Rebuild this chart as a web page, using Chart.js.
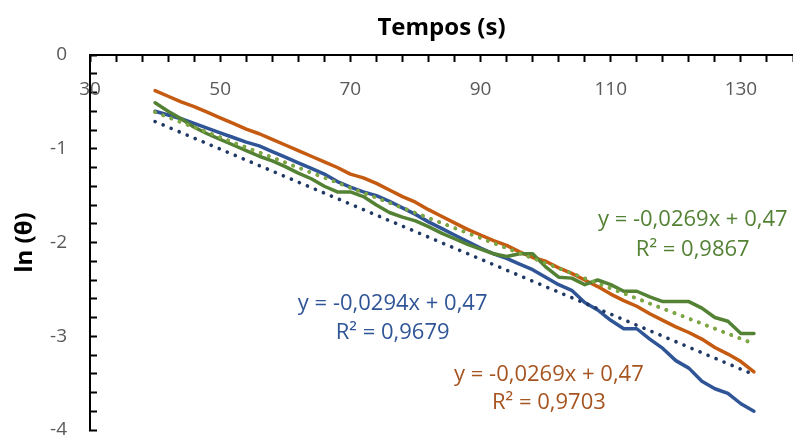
<!DOCTYPE html>
<html>
<head>
<meta charset="utf-8">
<script src="https://cdn.jsdelivr.net/npm/chart.js@4"></script>
<style>
  html,body{margin:0;padding:0;background:#fff;}
  #wrap{width:793px;height:437px;position:relative;}
</style>
</head>
<body>
<div id="wrap"><canvas id="c"></canvas></div>
<script>
// tempos (s) e ln(theta)
const tempos = [40,42,44,46,48,50,52,54,56,58,60,62,64,66,68,70,72,74,76,78,80,82,84,86,88,90,92,94,96,98,100,102,104,106,108,110,112,114,116,118,120,122,124,126,128,130,132];
const lnAzul = [-0.60,-0.64,-0.68,-0.73,-0.78,-0.83,-0.88,-0.93,-0.97,-1.03,-1.09,-1.15,-1.21,-1.27,-1.35,-1.41,-1.46,-1.50,-1.56,-1.63,-1.70,-1.78,-1.85,-1.92,-1.99,-2.06,-2.12,-2.17,-2.23,-2.29,-2.37,-2.45,-2.51,-2.64,-2.72,-2.83,-2.92,-2.92,-3.03,-3.13,-3.26,-3.34,-3.48,-3.56,-3.61,-3.72,-3.80];
const lnLaranja = [-0.38,-0.44,-0.50,-0.55,-0.61,-0.67,-0.73,-0.79,-0.84,-0.90,-0.96,-1.02,-1.08,-1.14,-1.20,-1.27,-1.31,-1.37,-1.44,-1.51,-1.57,-1.65,-1.72,-1.79,-1.86,-1.92,-1.98,-2.03,-2.10,-2.16,-2.20,-2.27,-2.33,-2.40,-2.47,-2.55,-2.62,-2.68,-2.76,-2.83,-2.90,-2.96,-3.03,-3.12,-3.19,-3.27,-3.38];
const lnVerde = [-0.51,-0.60,-0.68,-0.77,-0.84,-0.90,-0.96,-1.02,-1.08,-1.13,-1.19,-1.26,-1.32,-1.40,-1.46,-1.46,-1.51,-1.60,-1.68,-1.73,-1.77,-1.83,-1.90,-1.96,-2.02,-2.07,-2.12,-2.15,-2.12,-2.12,-2.26,-2.37,-2.38,-2.45,-2.40,-2.45,-2.52,-2.52,-2.58,-2.63,-2.63,-2.63,-2.70,-2.80,-2.84,-2.97,-2.97];

// linhas de tendência (extremos)
const trendX = [40,132];
const trendAzul = [-0.71,-3.41];
const trendLaranja = [-0.61,-3.08];
const trendVerde = [-0.61,-3.08];

const xTickLabels = [30,50,70,90,110,130];
const yTickLabels = [0,-1,-2,-3,-4];

const eqTexts = [
  {lines:['y = -0,0294x + 0,47','R² = 0,9679'], x:76.5, y:[-2.65,-2.96], color:'#2F5597'},
  {lines:['y = -0,0269x + 0,47','R² = 0,9867'], x:122.6, y:[-1.76,-2.08], color:'#548235'},
  {lines:['y = -0,0269x + 0,47','R² = 0,9703'], x:100.5, y:[-3.41,-3.71], color:'#A65420'}
];

const pts = (xs, ys) => xs.map((x,i)=>({x, y:ys[i]}));

const solid = (data,color,order)=>({data, borderColor:color, borderWidth:3.5, pointRadius:0, showLine:true, order, borderJoinStyle:'round', borderCapStyle:'round'});
const dotted = (data,color,order)=>({data, borderColor:color, borderWidth:3.6, pointRadius:0, showLine:true, order, borderDash:[0.1,8.6], borderCapStyle:'round'});

const textPlugin = {
  id:'extras',
  afterDatasetsDraw(chart){
    const {ctx, scales:{x, y}, chartArea} = chart;
    ctx.save();
    // x tick labels dentro da área
    ctx.font = '19px "Open Sans"';
    ctx.fillStyle = '#595959';
    ctx.textAlign = 'center';
    ctx.textBaseline = 'alphabetic';
    xTickLabels.forEach(v=>{
      ctx.fillText(String(v), x.getPixelForValue(v), chartArea.top + 40);
    });
    // equações
    ctx.font = '22px "Open Sans"';
    ctx.textBaseline = 'middle';
    eqTexts.forEach(t=>{
      ctx.fillStyle = t.color;
      t.lines.forEach((s,i)=>ctx.fillText(s, x.getPixelForValue(t.x), y.getPixelForValue(t.y[i])));
    });
    ctx.restore();
  }
};

new Chart(document.getElementById('c'), {
  type:'scatter',
  data:{
    datasets:[
      solid(pts(tempos,lnAzul),'#2F5597',9),
      solid(pts(tempos,lnLaranja),'#C55A11',8),
      solid(pts(tempos,lnVerde),'#548235',7),
      dotted(pts(trendX,trendAzul),'#1F3864',6),
      dotted(pts(trendX,trendLaranja),'#C55A11',5),
      dotted(pts(trendX,trendVerde),'#70AD47',4)
    ]
  },
  options:{
    responsive:true,
    maintainAspectRatio:false,
    animation:false,
    layout:{padding:{left:0,right:0,top:0,bottom:7}},
    plugins:{legend:{display:false}, tooltip:{enabled:false}},
    scales:{
      x:{
        type:'linear', position:'top', min:30, max:138,
        ticks:{stepSize:4, display:false, autoSkip:false},
        grid:{drawOnChartArea:false, drawTicks:true, tickLength:-7, tickColor:'#000', tickWidth:2},
        border:{color:'#000', width:2},
        title:{display:true, text:'Tempos (s)', color:'#000', font:{family:'"Open Sans"', size:24, weight:'bold'}, padding:{top:14,bottom:0}},
        afterFit(s){ s.height = 55; s.paddingLeft = 0; s.paddingRight = 0; }
      },
      y:{
        type:'linear', position:'left', min:-4, max:0,
        ticks:{stepSize:0.2, autoSkip:false, padding:30, color:'#595959', font:{family:'"Open Sans"', size:19},
          callback:(v)=>{ const r = Math.round(v); return (Math.abs(v-r)<1e-6 && yTickLabels.includes(r)) ? String(r) : ''; }},
        grid:{drawOnChartArea:false, drawTicks:true, tickLength:-7, tickColor:'#000', tickWidth:2},
        border:{color:'#000', width:2},
        title:{display:true, text:'ln (θ)', color:'#000', font:{family:'"Open Sans"', size:24, weight:'bold'}, padding:{top:11,bottom:0}},
        afterFit(s){ s.width = 90; s.paddingTop = 0; s.paddingBottom = 0; }
      }
    }
  },
  plugins:[textPlugin]
});
</script>
</body>
</html>
